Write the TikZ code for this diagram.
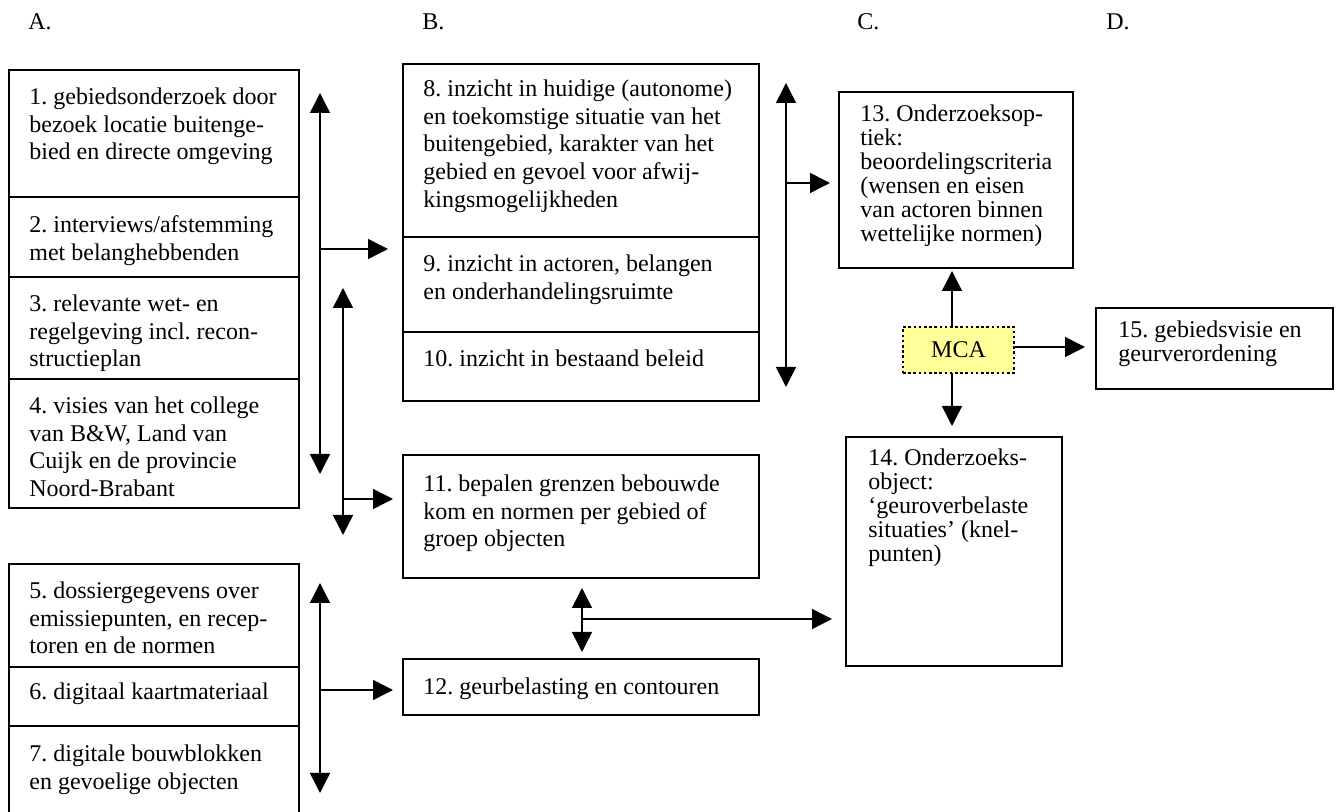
\documentclass[tikz,border=0pt]{standalone}
\usepackage{fontspec}
\setmainfont{Liberation Serif}
\usetikzlibrary{arrows.meta,calc}
\definecolor{mcayellow}{HTML}{FFFF99}
\frenchspacing
\newcommand\bx[5]{\node[box,anchor=north west,minimum width={(#4-#2)*0.5pt},minimum height={(#5-#3)*0.5pt}] (#1) at (#2,#3) {};}
\begin{document}
\begin{tikzpicture}[x=0.5pt,y=-0.5pt,
  box/.style={draw, line width=1pt, inner sep=0pt, outer sep=0pt},
  txt/.style={anchor=north west, inner sep=0pt, align=left, font=\fontsize{12}{13.85}\selectfont\frenchspacing},
  txtc/.style={anchor=north west, inner sep=0pt, align=left, font=\fontsize{12}{12}\selectfont\frenchspacing},
  head/.style={anchor=base west, inner sep=0pt, font=\fontsize{12}{13.85}\selectfont},
  ar/.style={line width=0.75pt, -{Triangle[length=10pt,width=10pt]}},
  dar/.style={line width=0.75pt, {Triangle[length=10pt,width=10pt]}-{Triangle[length=10pt,width=10pt]}},
  mcabox/.style={draw, line width=1.2pt, dash pattern=on 1.3pt off 1.3pt, fill=mcayellow, inner sep=0pt, minimum width=55.5pt, minimum height=23pt, font=\fontsize{12}{13.85}\selectfont}
]
\useasboundingbox (0,0) rectangle (1341,812);
\clip (0,0) rectangle (1341,812);

% headers
\node[head] (hA) at (28,30) {A.};
\node[head] (hB) at (422,30) {B.};
\node[head] (hC) at (857,30) {C.};
\node[head] (hD) at (1106,30) {D.};

% column A boxes
\bx{b1}{9}{70}{299}{197}
\bx{b2}{9}{197}{299}{277}
\bx{b3}{9}{277}{299}{379}
\bx{b4}{9}{379}{299}{508}
\bx{b5}{9}{564}{299}{667}
\bx{b6}{9}{667}{299}{726}
\bx{b7}{9}{726}{299}{840}
% column B boxes
\bx{b8}{403}{64}{759}{237}
\bx{b9}{403}{237}{759}{332}
\bx{b10}{403}{332}{759}{401}
\bx{b11}{403}{455}{759}{578}
\bx{b12}{403}{659}{759}{715}
% column C/D boxes
\bx{b13}{839}{92}{1073}{268}
\bx{b14}{846}{437}{1062}{666}
\bx{b15}{1096}{308}{1333}{389}
\node[mcabox] (mca) at (958.5,350) {MCA};

% texts
\node[txt] (t1) at ($(b1.north west)+(20,14.6)$) {\strut 1. gebiedsonderzoek door\\bezoek locatie buitenge-\\bied en directe omgeving};
\node[txt] (t2) at ($(b2.north west)+(20,15.6)$) {\strut 2. interviews/afstemming\\met belanghebbenden};
\node[txt] (t3) at ($(b3.north west)+(20,14.6)$) {\strut 3. relevante wet- en\\regelgeving incl. recon-\\structieplan};
\node[txt] (t4) at ($(b4.north west)+(20,14.6)$) {\strut 4. visies van het college\\van B\&W, Land van\\Cuijk en de provincie\\Noord-Brabant};
\node[txt] (t5) at ($(b5.north west)+(20,14.6)$) {\strut 5. dossiergegevens over\\emissiepunten, en recep-\\toren en de normen};
\node[txt] (t6) at ($(b6.north west)+(20,12.6)$) {\strut 6. digitaal kaartmateriaal};
\node[txt] (t7) at ($(b7.north west)+(20,15.6)$) {\strut 7. digitale bouwblokken\\en gevoelige objecten};
\node[txt] (t8) at ($(b8.north west)+(20,12.6)$) {\strut 8. inzicht in huidige (autonome)\\en toekomstige situatie van het\\buitengebied, karakter van het\\gebied en gevoel voor afwij-\\kingsmogelijkheden};
\node[txt] (t9) at ($(b9.north west)+(20,14.6)$) {\strut 9. inzicht in actoren, belangen\\en onderhandelingsruimte};
\node[txt] (t10) at ($(b10.north west)+(20,14.6)$) {\strut 10. inzicht in bestaand beleid};
\node[txt] (t11) at ($(b11.north west)+(20,16.6)$) {\strut 11. bepalen grenzen bebouwde\\kom en normen per gebied of\\groep objecten};
\node[txt] (t12) at ($(b12.north west)+(20,15.6)$) {\strut 12. geurbelasting en contouren};
\node[txtc] (t13) at ($(b13.north west)+(21,12.2)$) {\strut 13. Onderzoeksop-\\tiek:\\beoordelingscriteria\\(wensen en eisen\\van actoren binnen\\wettelijke normen)};
\node[txtc] (t14) at ($(b14.north west)+(22,11.2)$) {\strut 14. Onderzoeks-\\object:\\‘geuroverbelaste\\situaties’ (knel-\\punten)};
\node[txtc] (t15) at ($(b15.north west)+(22,12.2)$) {\strut 15. gebiedsvisie en\\geurverordening};

% connectors column A -> B
\coordinate (a1t) at (320,93);
\coordinate (a1b) at (320,474);
\coordinate (a1m) at (320,249);
\coordinate (a1e) at ($(b8.south west |- a1m)+(-15,0)$);
\draw[dar] (a1t) -- (a1b);
\draw[ar] (a1m) -- (a1e);

\coordinate (a2t) at (343,288);
\coordinate (a2b) at (343,535);
\coordinate (a2m) at (343,499);
\coordinate (a2e) at ($(b11.west |- a2m)+(-10,0)$);
\draw[dar] (a2t) -- (a2b);
\draw[ar] (a2m) -- (a2e);

\coordinate (a3t) at (320,583);
\coordinate (a3b) at (320,793);
\coordinate (a3m) at (320,690);
\coordinate (a3e) at ($(b12.west |- a3m)+(-10,0)$);
\draw[dar] (a3t) -- (a3b);
\draw[ar] (a3m) -- (a3e);

% connectors column B -> C
\coordinate (b1t) at (786,83);
\coordinate (b1b) at (786,387);
\coordinate (b1m) at (786,183);
\coordinate (b1e) at ($(b13.west |- b1m)+(-9,0)$);
\draw[dar] (b1t) -- (b1b);
\draw[ar] (b1m) -- (b1e);

\coordinate (b2t) at (582,588);
\coordinate (b2b) at (582,652);
\coordinate (b2m) at (582,619);
\coordinate (b2e) at ($(b14.west |- b2m)+(-14,0)$);
\draw[dar] (b2t) -- (b2b);
\draw[ar] (b2m) -- (b2e);

% MCA connectors
\coordinate (mu) at (952,327);
\coordinate (mue) at (952,271);
\coordinate (md) at (952,373);
\coordinate (mde) at (952,426);
\coordinate (mr) at ($(mca.east)+(0,-3)$);
\coordinate (mre) at ($(b15.west |- mr)+(-11,0)$);
\draw[ar] (mu) -- (mue);
\draw[ar] (md) -- (mde);
\draw[ar] (mr) -- (mre);
\end{tikzpicture}
\end{document}
